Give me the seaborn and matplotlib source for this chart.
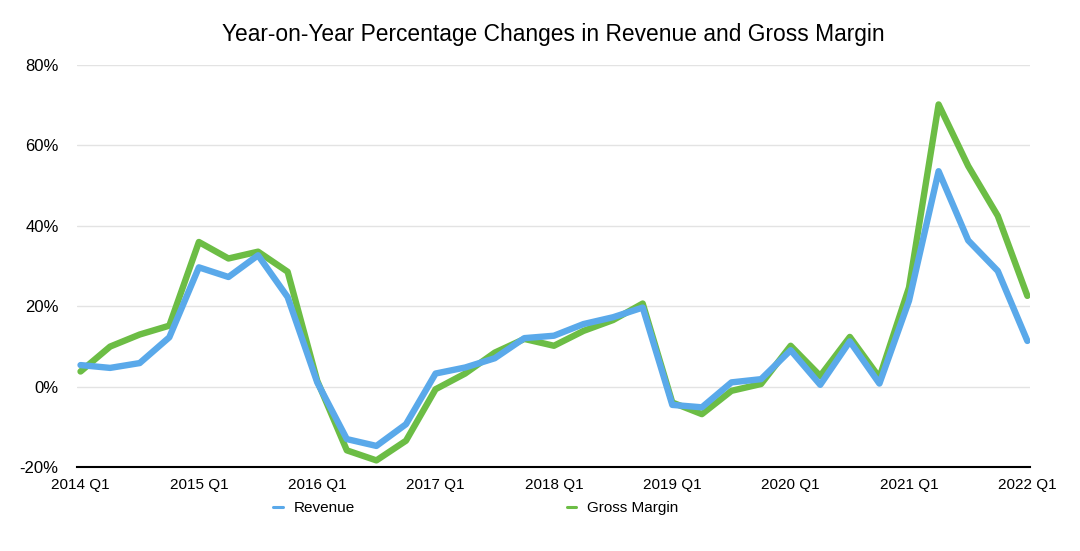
import seaborn as sns
import pandas as pd
import matplotlib.pyplot as plt
from matplotlib.lines import Line2D

quarters = [f"{y} Q{q}" for y in range(2014, 2022) for q in range(1, 5)] + ["2022 Q1"]
revenue = [5.4, 4.7, 5.9, 12.3, 29.7, 27.3, 32.7, 22.3, 1.1, -13.0, -14.7, -9.3,
           3.3, 4.8, 7.1, 12.1, 12.7, 15.6, 17.3, 19.7, -4.5, -5.1, 1.1, 1.9,
           9.1, 0.5, 11.3, 0.8, 21.4, 53.6, 36.4, 28.8, 11.4]
gross_margin = [3.8, 10.0, 13.0, 15.2, 36.0, 31.9, 33.6, 28.6, 1.5, -15.8, -18.3, -13.4,
                -0.6, 3.3, 8.5, 11.9, 10.2, 13.9, 16.6, 20.7, -3.9, -6.8, -1.0, 0.7,
                10.2, 2.7, 12.4, 2.3, 24.7, 70.2, 54.9, 42.5, 22.6]
year_ticks = [q for q in quarters if q.endswith("Q1")]
y_ticks = [-20, 0, 20, 40, 60, 80]

df = pd.DataFrame({
    "idx": list(range(len(quarters))) * 2,
    "value": revenue + gross_margin,
    "series": ["Revenue"] * len(quarters) + ["Gross Margin"] * len(quarters),
})

sns.set_style("white")
plt.rcParams['font.family'] = ['Liberation Sans', 'DejaVu Sans']
plt.rcParams['text.color'] = 'black'
plt.rcParams['xtick.color'] = 'black'
plt.rcParams['ytick.color'] = 'black'

fig, ax = plt.subplots(figsize=(10.8, 5.51), dpi=100)
fig.subplots_adjust(left=0.071, right=0.954, top=0.882, bottom=0.152)

palette = {"Revenue": "#5AA9EA", "Gross Margin": "#6CBD45"}
sns.lineplot(data=df, x="idx", y="value", hue="series",
             hue_order=["Revenue", "Gross Margin"], palette=palette,
             linewidth=4.6, ax=ax, legend=False)
# revenue drawn above gross margin
ax.lines[0].set_zorder(4)
ax.lines[1].set_zorder(3)

ax.set_xlim(-0.13, 32.1)
ax.set_ylim(-20, 80)
ax.set_yticks(y_ticks)
ax.set_yticklabels([f"{v}%" for v in y_ticks])
ax.set_xticks([quarters.index(t) for t in year_ticks])
ax.set_xticklabels(year_ticks)
ax.tick_params(axis="x", labelsize=11, length=0, pad=8)
ax.tick_params(axis="y", labelsize=12, length=0, pad=13)
ax.set_xlabel("")
ax.set_ylabel("")

ax.grid(axis="y", color="#e3e3e3", linewidth=1)
ax.set_axisbelow(True)
for s in ["left", "right", "top"]:
    ax.spines[s].set_visible(False)
ax.spines["bottom"].set_color("black")
ax.spines["bottom"].set_linewidth(1.5)

ax.set_title("Year-on-Year Percentage Changes in Revenue and Gross Margin",
             fontsize=16.4, pad=17, color="black")

handles = [Line2D([], [], color=palette["Revenue"], linewidth=2.2),
           Line2D([], [], color=palette["Gross Margin"], linewidth=2.2)]
fig.legend(handles, ["Revenue", "Gross Margin"], loc="center",
           bbox_to_anchor=(0.4405, 0.078), ncol=2, frameon=False,
           fontsize=11, handlelength=0.65, handletextpad=0.7, columnspacing=13.85)

fig.savefig("out.png", dpi=100)
